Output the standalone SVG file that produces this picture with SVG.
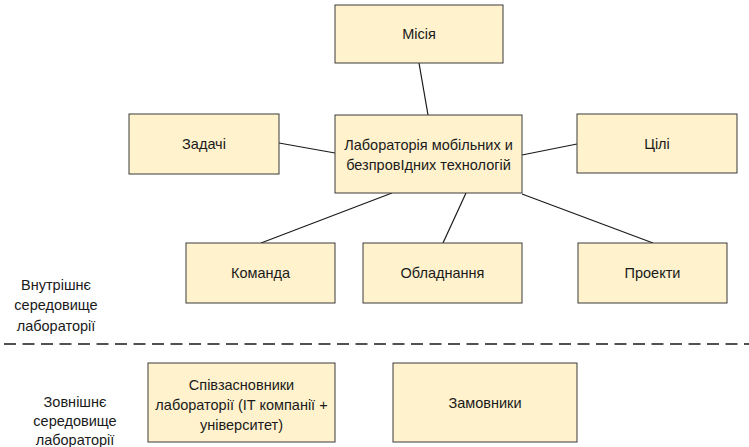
<svg xmlns="http://www.w3.org/2000/svg" width="749" height="447" viewBox="0 0 749 447">
<style>
  .box { fill: #FFF2CC; stroke: #3a3a3a; stroke-width: 1; }
  .t { font-family: "Liberation Sans", Arial, sans-serif; font-size: 14.5px; fill: #1a1a1a; text-anchor: middle; dominant-baseline: central; }
  .c { stroke: #1a1a1a; stroke-width: 1.2; fill: none; }
  .sep { stroke: #1a1a1a; stroke-width: 1.3; stroke-dasharray: 12 6.5; fill: none; }
</style>
<rect width="749" height="447" fill="#ffffff"/>
<g id="connectors">
  <line class="c" x1="419" y1="63" x2="428" y2="115"/>
  <line class="c" x1="279" y1="143" x2="335" y2="153"/>
  <line class="c" x1="522" y1="155" x2="577" y2="144"/>
  <line class="c" x1="392" y1="193" x2="261" y2="243"/>
  <line class="c" x1="466" y1="193" x2="443" y2="243"/>
  <line class="c" x1="522" y1="194" x2="653" y2="243"/>
</g>
<line id="separator" class="sep" x1="4" y1="344" x2="749" y2="344"/>
<g id="misia">
  <rect class="box" x="335" y="5" width="168" height="58"/>
  <text class="t" x="419" y="34">Місія</text>
</g>
<g id="lab">
  <rect class="box" x="335" y="115" width="187" height="78"/>
  <text class="t" x="428.5" y="145">Лабораторія мобільних и</text>
  <text class="t" x="428.5" y="165">безпровIдних технологій</text>
</g>
<g id="zadachi">
  <rect class="box" x="129" y="114" width="150" height="60"/>
  <text class="t" x="204" y="144">Задачі</text>
</g>
<g id="tsili">
  <rect class="box" x="577" y="114" width="160" height="59"/>
  <text class="t" x="657" y="144">Цілі</text>
</g>
<g id="komanda">
  <rect class="box" x="186" y="243" width="149" height="60"/>
  <text class="t" x="260.5" y="273">Команда</text>
</g>
<g id="obladnannia">
  <rect class="box" x="363" y="243" width="159" height="60"/>
  <text class="t" x="442.5" y="273">Обладнання</text>
</g>
<g id="proekty">
  <rect class="box" x="578" y="243" width="149" height="60"/>
  <text class="t" x="652.5" y="273">Проекти</text>
</g>
<g id="spivzasnovnyky">
  <rect class="box" x="148" y="363" width="187" height="79"/>
  <text class="t" x="241.5" y="385">Співзасновники</text>
  <text class="t" x="241.5" y="405">лабораторії (IT компанії +</text>
  <text class="t" x="241.5" y="425">університет)</text>
</g>
<g id="zamovnyky">
  <rect class="box" x="393" y="363" width="184" height="79"/>
  <text class="t" x="485" y="403">Замовники</text>
</g>
<g id="internal-label">
  <text class="t" x="56" y="285">Внутрішнє</text>
  <text class="t" x="56" y="305">середовище</text>
  <text class="t" x="56" y="326">лабораторії</text>
</g>
<g id="external-label">
  <text class="t" x="75" y="402">Зовнішнє</text>
  <text class="t" x="75" y="421">середовище</text>
  <text class="t" x="75" y="440">лабораторії</text>
</g>
</svg>
